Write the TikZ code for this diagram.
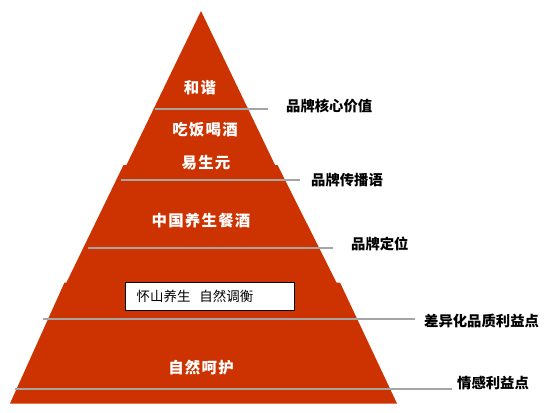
\documentclass[tikz,border=0pt]{standalone}
\usepackage{fontspec}
\setmainfont{Noto Sans CJK SC}
\definecolor{pyrred}{RGB}{204,51,0}
\definecolor{rulegrey}{RGB}{165,165,165}
\begin{document}
\begin{tikzpicture}[x=1bp,y=-1bp,
  layer/.style={fill=pyrred,draw=none},
  rule/.style={draw=rulegrey,line width=2bp},
  inlabel/.style={text=white,inner sep=0pt,font=\fontsize{15.5}{16}\selectfont\bfseries\addfontfeature{LetterSpace=8}},
  sidelabel/.style={text=black,inner sep=0pt,anchor=west,font=\fontsize{14.4}{15}\selectfont\bfseries},
  boxlabel/.style={draw=black,line width=0.8bp,fill=white,minimum width=169bp,minimum height=28bp,inner sep=0pt},
]
\useasboundingbox (0,0) rectangle (551,412);
% pyramid layers
\fill[layer] (201,11) -- (275.5,166) -- (126,166) -- cycle;
\fill[layer] (123.5,165) -- (277.5,165) -- (337,283.5) -- (66,283.5) -- cycle;
\fill[layer] (64.5,282.5) -- (340,282.5) -- (397,403.5) -- (10,403.5) -- cycle;
% rule end points
\coordinate (r1a) at (155,109); \coordinate (r1b) at (268,109);
\coordinate (r2a) at (121,180); \coordinate (r2b) at (300,180);
\coordinate (r3a) at (88,248);  \coordinate (r3b) at (333,248);
\coordinate (r4a) at (43,318.5); \coordinate (r4b) at (415,318.5);
\coordinate (r5a) at (15,389);  \coordinate (r5b) at (452,389);
\draw[rule] (r1a) -- (r1b);
\draw[rule] (r2a) -- (r2b);
\draw[rule] (r3a) -- (r3b);
\draw[rule] (r4a) -- (r4b);
\draw[rule] (r5a) -- (r5b);
% labels inside pyramid
\node[inlabel] (hexie) at (200,88) {和谐};
\node[inlabel] (chifan) at (205,130) {吃饭喝酒};
\node[inlabel] (yisheng) at (206,163) {易生元};
\node[inlabel] (zhongguo) at (201,221) {中国养生餐酒};
\node[inlabel] (ziran) at (201,368) {自然呵护};
% box
\node[boxlabel] (box) at (209.5,296) {};
\node[anchor=west,inner sep=0pt,font=\fontsize{13.5}{14}\selectfont] (boxtext) at (136.5,296) {怀山养生\hspace{9bp}自然调衡};
% side labels
\node[sidelabel] (s1) at (286,106) {品牌核心价值};
\node[sidelabel] (s2) at (311,180) {品牌传播语};
\node[sidelabel] (s3) at (351,244) {品牌定位};
\node[sidelabel] (s4) at (424,321) {差异化品质利益点};
\node[sidelabel] (s5) at (457,383) {情感利益点};
\end{tikzpicture}
\end{document}
